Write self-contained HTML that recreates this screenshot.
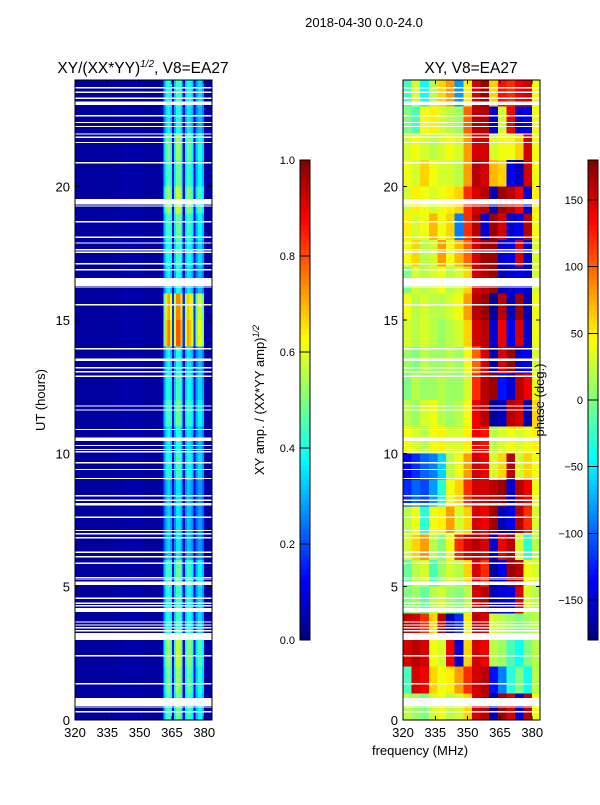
<!DOCTYPE html>
<html><head><meta charset="utf-8"><style>
body{margin:0;background:#fff;font-family:"Liberation Sans","DejaVu Sans",sans-serif}
svg text{font-family:"Liberation Sans","DejaVu Sans",sans-serif;fill:#000}
</style></head><body>
<svg id="fig" width="600" height="800" viewBox="0 0 600 800" shape-rendering="crispEdges">
<rect width="600" height="800" fill="#fff"/>
<text x="364" y="27" font-size="13" text-anchor="middle">2018-04-30 0.0-24.0</text>
<text x="143" y="73" font-size="15.5" text-anchor="middle">XY/(XX*YY)<tspan dy="-6" font-size="10" font-style="italic">1/2</tspan><tspan dy="6">, V8=EA27</tspan></text>
<text x="471" y="73" font-size="15.5" text-anchor="middle">XY, V8=EA27</text>
<g id="left"></g>
<g id="right"></g>
<g id="axes"></g>
<text x="420" y="755" font-size="13" text-anchor="middle">frequency (MHz)</text>
<text transform="translate(45,400) rotate(-90)" font-size="13" text-anchor="middle">UT (hours)</text>
<text transform="translate(264,400) rotate(-90)" font-size="13" text-anchor="middle">XY amp. / (XX*YY amp)<tspan dy="-5" font-size="9" font-style="italic">1/2</tspan></text>
<text transform="translate(544,400) rotate(-90)" font-size="13" text-anchor="middle">phase (deg.)</text>
</svg>
<script>
const ampFreqProfile=[0.03,0.03,0.03,0.03,0.03,0.03,0.03,0.03,0.03,0.03,0.03,0.03,0.03,0.03,0.03,0.03,0.03,0.03,0.03,0.03,0.04,0.04,0.04,0.04,0.04,0.04,0.04,0.04,0.04,0.04,0.04,0.04,0.03,0.03,0.03,0.03,0.03,0.03,0.03,0.04,0.05,0.28,0.38,0.42,0.36,0.1,0.33,0.44,0.44,0.38,0.1,0.33,0.4,0.38,0.33,0.1,0.28,0.34,0.34,0.28,0.04,0.04,0.04,0.04];
const ampHourFactor=[1.1,1.2,1.3,1.0,1.0,1.1,0.8,0.8,0.8,1.0,0.9,1.1,1.0,0.9,1.8,1.7,0.9,1.0,1.1,1.3,1.1,1.2,0.9,1.0];
const phaseGrid=[
[20,10,0,30,40,20,30,60,150,160,-160,170,150,-150,160,40],
[-20,150,140,60,40,50,80,120,150,160,-130,-90,-30,0,-40,20],
[150,160,150,40,30,140,-150,60,150,140,20,10,-20,-40,0,20],
[160,150,120,60,160,-160,-120,50,160,150,30,20,10,0,10,20],
[0,10,-10,20,30,10,0,20,150,160,-160,-150,-140,150,30,20],
[-10,20,30,-20,10,30,20,60,150,120,-170,-140,170,160,40,30],
[30,60,80,20,0,40,120,150,160,150,-150,140,160,30,-30,20],
[20,40,-30,40,50,80,30,60,150,140,170,-160,-140,160,120,30],
[-120,-100,-110,-80,-30,40,60,120,150,150,160,170,-150,160,140,40],
[-140,-120,-100,-90,-60,20,40,80,150,140,30,60,160,30,60,40],
[40,30,20,40,50,30,30,50,140,130,20,30,40,30,40,50],
[20,10,30,40,20,10,20,40,140,160,-170,-160,160,150,-160,60],
[0,20,10,10,20,10,10,30,120,160,170,-130,-150,160,140,40],
[10,0,20,10,10,20,10,40,100,150,-160,150,170,-150,-140,30],
[30,20,30,20,10,20,30,60,150,160,-150,140,-140,150,-150,40],
[40,20,30,20,20,30,40,80,160,170,-170,160,-160,170,-160,40],
[0,30,20,30,40,20,30,60,150,160,170,-160,-150,-140,-150,30],
[40,60,20,30,80,40,70,100,150,170,170,-150,-140,150,-150,30],
[50,30,40,70,40,60,-90,120,160,-150,170,150,-150,-140,160,40],
[30,50,40,30,40,50,60,120,150,160,-160,170,160,140,-150,50],
[40,30,60,40,30,30,20,80,160,150,70,60,-140,-160,150,40],
[30,40,30,20,30,40,30,80,150,150,30,40,40,60,150,40],
[0,-20,40,50,30,20,10,100,160,160,-150,30,140,-150,-140,40],
[-20,30,-40,20,60,80,-80,50,150,170,60,130,120,140,150,40]];
const flagStart=[0.29,0.46,0.52,1.33,2.39,3.0,3.32,3.44,3.54,3.65,4.05,4.26,4.35,4.54,5.06,5.26,5.32,5.85,6.1,6.26,6.81,6.96,7.08,7.58,8.04,8.22,8.38,9.03,9.37,9.62,10.04,10.12,10.27,10.46,10.87,11.6,11.75,12.86,13.04,13.19,13.46,13.9,15.55,16.21,16.28,16.86,17.08,17.51,17.61,17.86,18.08,18.66,19.25,19.34,20.87,21.63,21.83,21.95,22.23,22.38,22.64,23.07,23.29,23.51,23.68];
const flagEnd=[0.33,0.5,0.82,1.38,2.44,3.27,3.37,3.49,3.59,3.7,4.2,4.31,4.4,4.59,5.2,5.3,5.37,5.9,6.15,6.31,6.86,7.01,7.13,7.63,8.13,8.27,8.43,9.08,9.42,9.67,10.09,10.17,10.32,10.6,10.92,11.65,11.8,12.91,13.09,13.24,13.56,13.95,15.6,16.25,16.57,16.91,17.13,17.56,17.66,17.91,18.13,18.71,19.3,19.54,20.92,21.68,21.88,22.0,22.28,22.43,22.69,23.2,23.34,23.56,23.73];
const yTicks=[0,5,10,15,20];
const xTicks=[320,335,350,365,380];
const ampCbTicks=[0.0,0.2,0.4,0.6,0.8,1.0];
const phaseCbTicks=[-150,-100,-50,0,50,100,150];

const NS='http://www.w3.org/2000/svg';
const FMIN=320,FMAX=383.6,TMIN=0,TMAX=24;
const PY0=720,PY1=80;
function yS(t){return PY0-(t-TMIN)/(TMAX-TMIN)*(PY0-PY1);}
function xS(f,x0){return x0+(f-FMIN)/(FMAX-FMIN)*137;}
function cl(v){return Math.max(0,Math.min(1,v));}
function jet(v){v=cl(v);const r=cl(1.5-Math.abs(4*v-3)),g=cl(1.5-Math.abs(4*v-2)),b=cl(1.5-Math.abs(4*v-1));return `rgb(${Math.round(r*255)},${Math.round(g*255)},${Math.round(b*255)})`;}
function mk(tag,attrs,parent){const e=document.createElementNS(NS,tag);for(const k in attrs)e.setAttribute(k,attrs[k]);parent.appendChild(e);return e;}

const L=document.getElementById('left'),R=document.getElementById('right'),A=document.getElementById('axes');
for(let h=0;h<ampHourFactor.length;h++){
  for(let c=0;c<ampFreqProfile.length;c++){
    const base=ampFreqProfile[c];
    const v=base>0.08?base*ampHourFactor[h]:base;
    const x0=xS(FMIN+c,75),x1=xS(FMIN+c+1,75);
    const r=mk('rect',{x:x0,y:yS(h+1),width:Math.min(x1,212)-x0,height:yS(h)-yS(h+1),fill:jet(v)},L);
    
    
  }
}
for(let h=0;h<phaseGrid.length;h++){
  const row=phaseGrid[h];
  for(let c=0;c<row.length;c++){
    const x0=xS(FMIN+c*4,403),x1=xS(FMIN+c*4+4,403);
    const r=mk('rect',{x:x0,y:yS(h+1),width:Math.min(x1,540)-x0,height:yS(h)-yS(h+1),fill:jet((row[c]+180)/360)},R);
    
    
  }
}
for(let i=0;i<flagStart.length;i++){
  for(const x0 of [75,403]){
    const r=mk('rect',{x:x0,y:yS(flagEnd[i]),width:137,height:Math.max(1,yS(flagStart[i])-yS(flagEnd[i])),fill:'#fff'},x0===75?L:R);
    
    
  }
}
for(const x0 of [75,403]){
  const f=mk('rect',{x:x0,y:80,width:137,height:640,fill:'none',stroke:'#000','stroke-width':1},A);
  
  
  for(const t of yTicks){
    const y=yS(t);
    mk('line',{x1:x0,x2:x0+4,y1:y,y2:y,stroke:'#000'},A);
    mk('line',{x1:x0+137,x2:x0+133,y1:y,y2:y,stroke:'#000'},A);
    const tx=mk('text',{x:x0-5,y:y+5,'font-size':13,'text-anchor':'end'},A);
    tx.textContent=t;
    
    
  }
  for(const t of xTicks){
    const x=xS(t,x0);
    mk('line',{x1:x,x2:x,y1:720,y2:716,stroke:'#000'},A);
    mk('line',{x1:x,x2:x,y1:80,y2:84,stroke:'#000'},A);
    const tx=mk('text',{x:x,y:737,'font-size':13,'text-anchor':'middle'},A);
    tx.textContent=t;
    
    
  }
}
function cbar(x0,ticks,lo,hi,name){
  for(let i=0;i<96;i++){
    const r=mk('rect',{x:x0,y:640-(i+1)*5,width:10,height:5,fill:jet((i+0.5)/96)},A);
    
    
  }
  const f=mk('rect',{x:x0,y:160,width:10,height:480,fill:'none',stroke:'#000'},A);
  
  
  for(const t of ticks){
    const y=640-(t-lo)/(hi-lo)*480;
    mk('line',{x1:x0,x2:x0+10,y1:y,y2:y,stroke:'#000'},A);
    const tx=mk('text',{x:x0-5,y:y+4,'font-size':11,'text-anchor':'end'},A);
    tx.textContent=(lo===0?t.toFixed(1):(t<0?'\u2212'+(-t):t));
    
    
  }
}
cbar(300,ampCbTicks,0,1,'amp-colorbar');
cbar(588,phaseCbTicks,-180,180,'phase-colorbar');
</script>
</body></html>
